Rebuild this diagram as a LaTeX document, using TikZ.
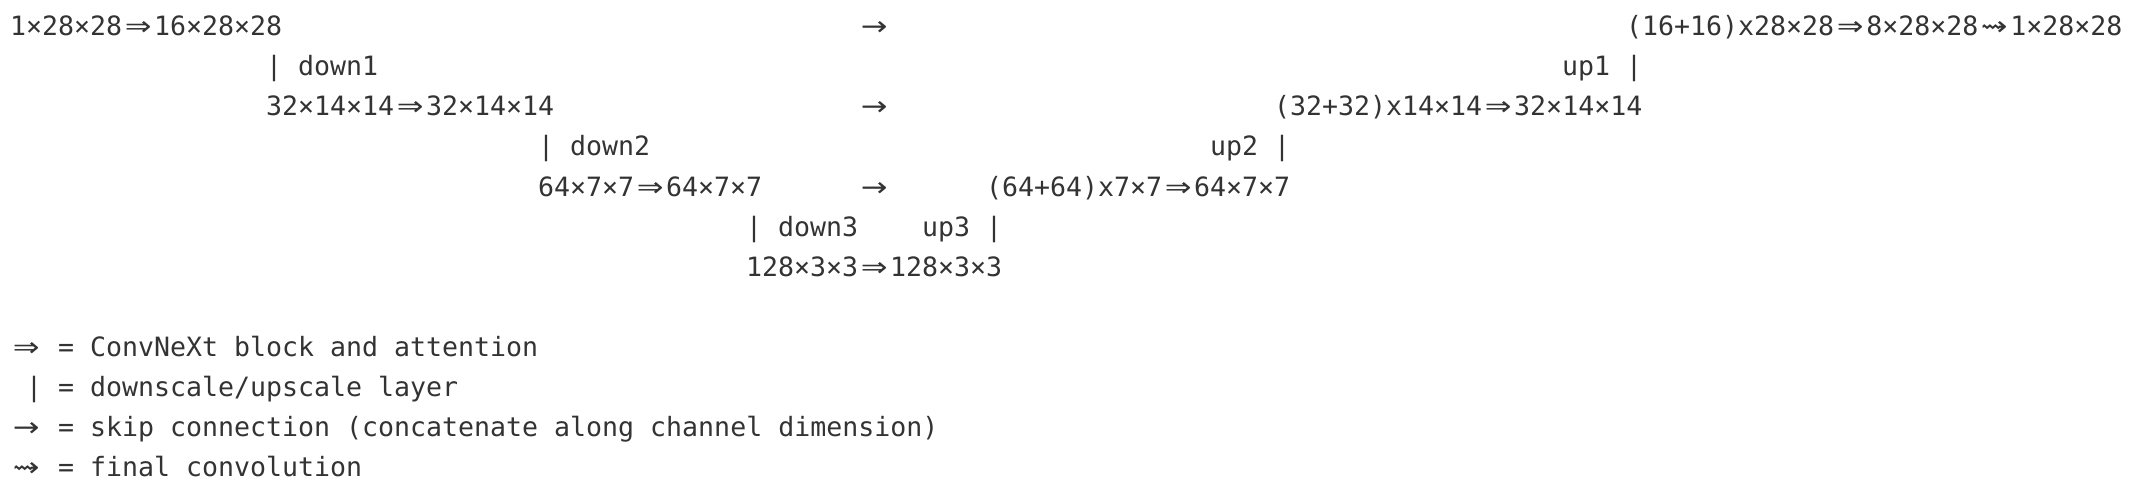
\documentclass[tikz,border=0pt]{standalone}
\usepackage{fontspec}
\setmonofont{DejaVu Sans Mono}
\newfontfamily\arrowfont{DejaVu Sans}
\usepackage{xcolor}
\definecolor{ink}{RGB}{51,51,51}
\newcommand\dw[1]{\makebox[32pt]{\scalebox{1.2}[1]{\arrowfont #1}}}
\tikzset{
  line/.style={anchor=base west, inner sep=0pt, text=ink,
    font=\ttfamily\fontsize{26.58pt}{40pt}\selectfont}
}

\begin{document}
\begin{tikzpicture}[x=16pt,y=-40pt]
  \useasboundingbox (-10pt,36pt) rectangle (2124pt,-456pt);
  \node[line] (in)   at (0,0)   {1×28×28\dw{⇒}16×28×28};
  \node[line] (skipa) at (53,0) {\dw{→}};
  \node[line] (outa) at (101,0) {(16+16)x28×28\dw{⇒}8×28×28\dw{⇝}1×28×28};

  \node[line] (downa) at (16,1) {| down1};
  \node[line] (upa)   at (97,1) {up1 |};

  \node[line] (enca)  at (16,2) {32×14×14\dw{⇒}32×14×14};
  \node[line] (skipb) at (53,2) {\dw{→}};
  \node[line] (outb)  at (79,2) {(32+32)x14×14\dw{⇒}32×14×14};

  \node[line] (downb) at (33,3) {| down2};
  \node[line] (upb)   at (75,3) {up2 |};

  \node[line] (encb)  at (33,4) {64×7×7\dw{⇒}64×7×7};
  \node[line] (skipc) at (53,4) {\dw{→}};
  \node[line] (outc)  at (61,4) {(64+64)x7×7\dw{⇒}64×7×7};

  \node[line] (downc) at (46,5) {| down3};
  \node[line] (upc)   at (57,5) {up3 |};

  \node[line] (mid)   at (46,6) {128×3×3\dw{⇒}128×3×3};

  \node[line] (keya) at (0,8)  {\dw{⇒} = ConvNeXt block and attention};
  \node[line] (keyb) at (1,9)  {| = downscale/upscale layer};
  \node[line] (keyc) at (0,10) {\dw{→} = skip connection (concatenate along channel dimension)};
  \node[line] (keyd) at (0,11) {\dw{⇝} = final convolution};
\end{tikzpicture}
\end{document}
